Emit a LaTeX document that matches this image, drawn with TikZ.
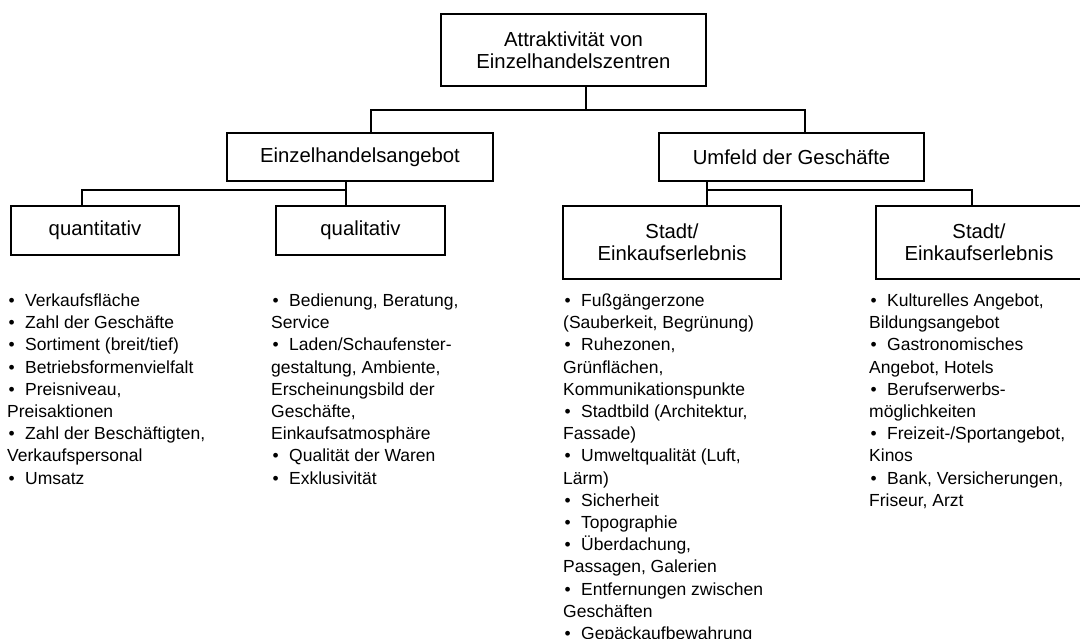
\documentclass[tikz,border=0pt]{standalone}
\usepackage{fontspec}
\setmainfont{Liberation Sans}
\begin{document}
\begin{tikzpicture}[x=1pt,y=-1pt,
  txt/.style={font=\fontsize{17.5}{22.2}\selectfont},
  box/.style={font=\fontsize{20.3}{22}\selectfont,draw=black,line width=1.6pt,inner sep=0pt,align=center},
  link/.style={draw=black,line width=1.6pt},
  itemlist/.style={txt,anchor=base west,inner sep=0pt}]
\newcommand{\li}{\makebox[18pt][l]{\hspace{1.5pt}•}}
\newcommand{\itemcol}[2]{\parbox[t]{#1}{\raggedright\setlength{\baselineskip}{22.2pt}\setlength{\lineskiplimit}{-10pt}#2}}

\useasboundingbox (0,0) rectangle (1080,639);
\fill[white] (0,0) rectangle (1080,639);
\clip (0,0) rectangle (1080,639);

% boxes
\node[box,minimum width=265pt,minimum height=72pt] (top) at (573.5,50) {Attraktivität von\\Einzelhandelszentren};
\node[box,minimum width=266pt,minimum height=48pt] (ea) at (360,157) {Einzelhandelsangebot};
\node[box,minimum width=265pt,minimum height=48pt] (uf) at (791.5,157) {Umfeld der Geschäfte};
\node[box,minimum width=168pt,minimum height=49pt] (quant) at (95,230.5) {quantitativ};
\node[box,minimum width=169pt,minimum height=49pt] (qual) at (360.5,230.5) {qualitativ};
\node[box,minimum width=218pt,minimum height=73pt] (st1) at (672,242.5) {Stadt/\\Einkaufserlebnis};
\node[box,minimum width=206pt,minimum height=73pt] (st2) at (979,242.5) {Stadt/\\Einkaufserlebnis};

% bus lines
\coordinate (j0) at (586,110);
\coordinate (b0l) at (371,110);
\coordinate (b0r) at (805,110);
\coordinate (b1l) at (82,190);
\coordinate (b1r) at (346,190);
\coordinate (b2l) at (707,190);
\coordinate (b2r) at (972,190);

\draw[link] (top.south -| j0) -- (j0);
\draw[link] (b0l |- ea.north) -- (b0l) -- (b0r) -- (b0r |- uf.north);
\draw[link] (b1r |- ea.south) -- (b1r |- qual.north);
\draw[link] (b1r) -- (b1l) -- (b1l |- quant.north);
\draw[link] (b2l |- uf.south) -- (b2l |- st1.north);
\draw[link] (b2l) -- (b2r) -- (b2r |- st2.north);

% item lists
\node[itemlist] (l1) at (7,306.5) {\itemcol{250pt}{%
\li Verkaufsfläche\\
\li Zahl der Geschäfte\\
\li Sortiment (breit/tief)\\
\li Betriebsformenvielfalt\\
\li Preisniveau,\\
Preisaktionen\\
\li Zahl der Beschäftigten,\\
Verkaufspersonal\\
\li Umsatz}};

\node[itemlist] (l2) at (271,306.5) {\itemcol{270pt}{%
\li Bedienung, Beratung,\\
Service\\
\li Laden/Schaufenster-\\
gestaltung, Ambiente,\\
Erscheinungsbild der\\
Geschäfte,\\
Einkaufsatmosphäre\\
\li Qualität der Waren\\
\li Exklusivität}};

\node[itemlist] (l3) at (563,306.5) {\itemcol{290pt}{%
\li Fußgängerzone\\
(Sauberkeit, Begrünung)\\
\li Ruhezonen,\\
Grünflächen,\\
Kommunikationspunkte\\
\li Stadtbild (Architektur,\\
Fassade)\\
\li Umweltqualität (Luft,\\
Lärm)\\
\li Sicherheit\\
\li Topographie\\
\li Überdachung,\\
Passagen, Galerien\\
\li Entfernungen zwischen\\
Geschäften\\
\li Gepäckaufbewahrung}};

\node[itemlist] (l4) at (869,306.5) {\itemcol{210pt}{%
\li Kulturelles Angebot,\\
Bildungsangebot\\
\li Gastronomisches\\
Angebot, Hotels\\
\li Berufserwerbs-\\
möglichkeiten\\
\li Freizeit-/Sportangebot,\\
Kinos\\
\li Bank, Versicherungen,\\
Friseur, Arzt}};
\end{tikzpicture}
\end{document}
